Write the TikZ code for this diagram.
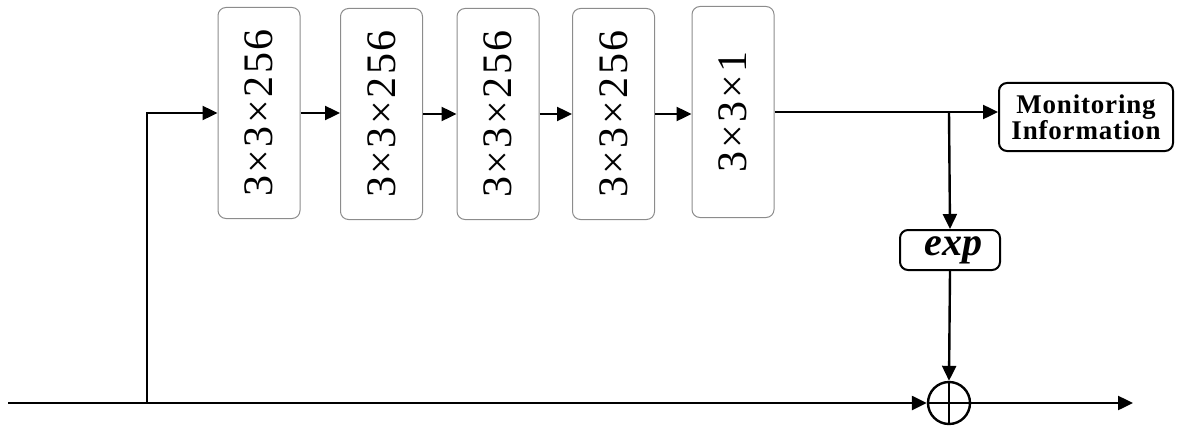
\documentclass[tikz,border=0pt]{standalone}
\usepackage{fontspec}
\usepackage{graphicx}
\setmainfont{Liberation Serif}
\usetikzlibrary{arrows.meta}
\begin{document}
\begin{tikzpicture}
  [x=0.5pt,y=-0.5pt,
   >={Triangle[length=7.5pt,width=7pt]},
   flow/.style={line width=1.2pt},
   convbox/.style={draw=black!45,line width=0.5pt,rounded corners=4pt,
     minimum width=41pt,minimum height=105.5pt,inner sep=0pt,
     font=\fontsize{21}{24}\selectfont\addfontfeatures{LetterSpace=6}},
   outbox/.style={draw,line width=1pt,rounded corners=4pt,inner sep=0pt,align=center}]
  \useasboundingbox (0,0) rectangle (1181,433);
  % conv layers
  \node[convbox] (c1) at (259,113) {\rotatebox{90}{3×3×256}};
  \node[convbox] (c2) at (381.5,114) {\rotatebox{90}{3×3×256}};
  \node[convbox] (c3) at (498,114) {\rotatebox{90}{3×3×256}};
  \node[convbox] (c4) at (613.5,114) {\rotatebox{90}{3×3×256}};
  \node[convbox] (c5) at (733,112) {\rotatebox{90}{3×3×1}};
  % outputs
  \node[outbox,minimum width=87pt,minimum height=34pt,
    font=\bfseries\fontsize{13.5}{13}\selectfont\addfontfeatures{LetterSpace=3}]
    (mon) at (1086,117) {Monitoring\\Information};
  \node[outbox,minimum width=50pt,minimum height=20pt,
    font=\bfseries\itshape\fontsize{20}{22}\selectfont] (exp) at (950,250) {\,exp};
  \node[circle,draw,line width=1.2pt,minimum size=21pt,inner sep=0pt] (sum) at (949,403) {};
  \draw[line width=1.2pt] (sum.north) -- (sum.south) (sum.west) -- (sum.east);
  % route points
  \coordinate (in) at (8,403);
  \coordinate (split) at (147,403);
  \coordinate (tap) at (949,113);
  \coordinate (out) at (1133,403);
  % connectors
  \draw[flow,->] (in) -- (sum.west);
  \draw[flow,->] (split) |- (c1.west);
  \draw[flow,->] (c1.east) -- (c1.east -| c2.west);
  \draw[flow,->] (c2.east) -- (c2.east -| c3.west);
  \draw[flow,->] (c3.east) -- (c3.east -| c4.west);
  \draw[flow,->] (c4.east) -- (c4.east -| c5.west);
  \draw[flow,->] (c5.east) -- (c5.east -| mon.west);
  \draw[flow,->] (tap) -- (exp.north);
  \draw[flow,->] (exp.south) -- (sum.north);
  \draw[flow,->] (sum.east) -- (out);
\end{tikzpicture}
\end{document}
